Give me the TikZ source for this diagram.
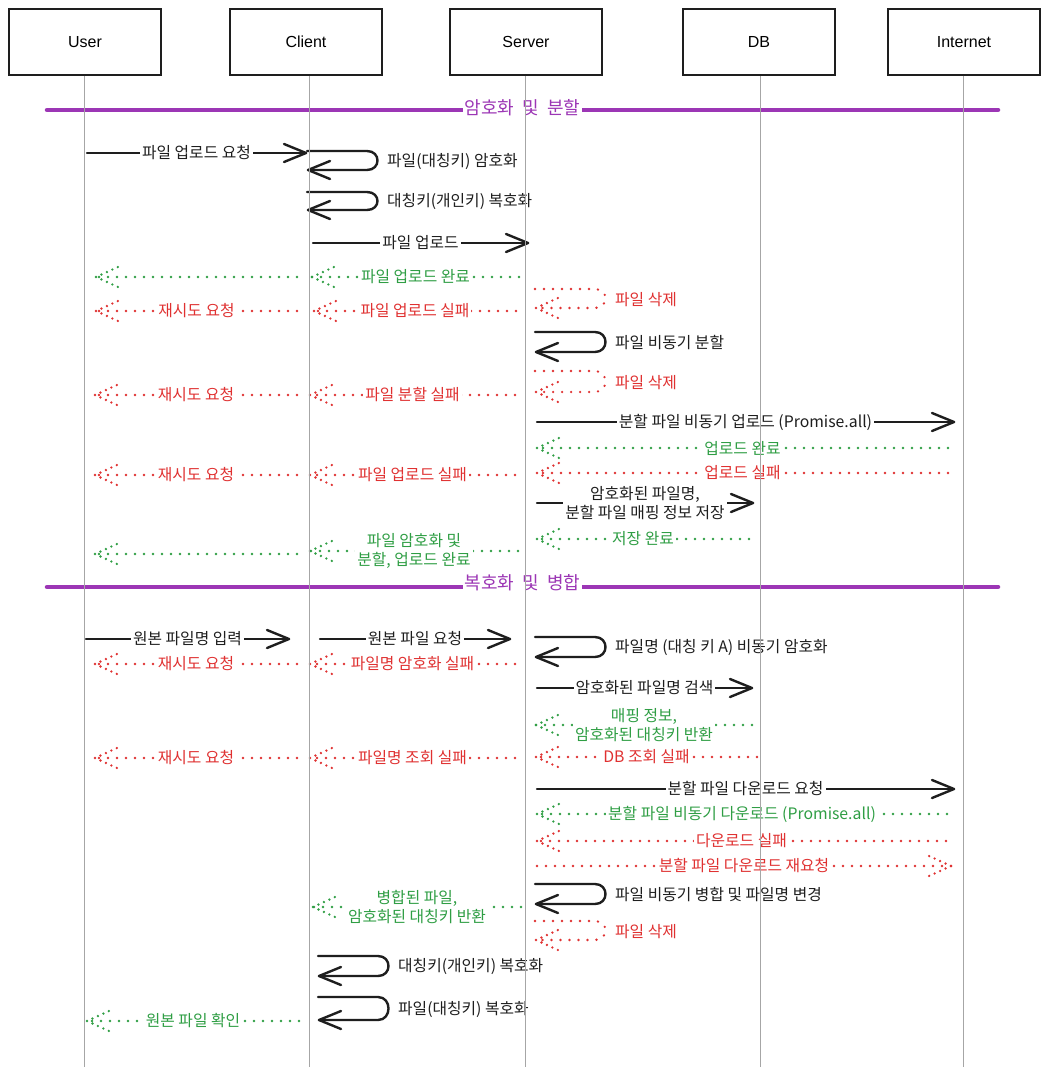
\documentclass[tikz,border=0pt]{standalone}
\usepackage{fontspec}
\setmainfont{Noto Sans CJK KR}
\newfontfamily\boxfont{Liberation Sans}
\usetikzlibrary{positioning, calc}
\definecolor{seqink}{RGB}{30, 30, 30}
\definecolor{seqgreen}{RGB}{47, 158, 68}
\definecolor{seqred}{RGB}{224, 49, 49}
\definecolor{seqpurple}{RGB}{156, 54, 181}

\tikzset{
    actor/.style={draw=seqink, line width=2pt, minimum width=152pt, minimum height=66pt,
        font=\boxfont\fontsize{16}{18}\selectfont},
    lifeline/.style={draw=black!35, line width=1pt},
    phase/.style={draw=seqpurple, line width=4.5pt, line cap=round},
    phaselbl/.style={text=seqpurple, fill=white, inner sep=1.5pt, yshift=2pt,
        font=\fontsize{18}{20}\selectfont},
    call/.style={seqink, line width=2.4pt, line cap=round, line join=round},
    reply/.style={line width=2.6pt, line cap=round, dash pattern=on 0pt off 9pt},
    lbl/.style={fill=white, inner xsep=2pt, inner ysep=1pt, align=center,
        font=\fontsize{15.8}{19}\selectfont},
    pics/barb/.style={code={\draw (0,0) -- (-22,-9) (0,0) -- (-22,9);}},
    pics/dotbarb/.style={code={\draw[dash pattern=on 0pt off 6pt] (0,0) -- (-22,-10) (0,0) -- (-22,10);}},
}

\begin{document}
\begin{tikzpicture}[x=1pt, y=-1pt]
    \useasboundingbox (0,0) rectangle (1048,1078);
    \fill[white] (0,0) rectangle (1048,1078);

    % Participants
    \node[actor] (user)   at (85,42)  {User};
    \node[actor] (client) at (306,42) {Client};
    \node[actor] (server) at (526,42) {Server};
    \node[actor] (db)     at (759,42) {DB};
    \node[actor] (inet)   at (964,42) {Internet};

    % Phase separators
    \coordinate (encA) at (47,110);
    \coordinate (encB) at (998,110);
    \draw[phase] (encA) -- node[phaselbl] (enc) {암호화\hspace{8pt}및\hspace{8pt}분할} (encB);
    \coordinate (decA) at (47,587);
    \coordinate (decB) at (998,587);
    \draw[phase] (decA) -- node[phaselbl, yshift=2pt] (dec) {복호화\hspace{8pt}및\hspace{8pt}병합} (decB);

    % Requests (solid)
    \foreach \y/\a/\b/\txt [count=\i] in {
        153/87/306/파일 업로드 요청,
        243/313/528/파일 업로드,
        422/537/954/분할 파일 비동기 업로드 (Promise.all),
        {503/537/753/암호화된 파일명,\\분할 파일 매핑 정보 저장},
        639/86/289/원본 파일명 입력,
        639/320/510/원본 파일 요청,
        688/537/752/암호화된 파일명 검색,
        789/537/954/분할 파일 다운로드 요청} {
        \coordinate (callA\i) at (\a,\y);
        \coordinate (callB\i) at (\b,\y);
        \draw[call] (callA\i) -- node[lbl] (callL\i) {\txt} (callB\i);
        \pic[call] at (callB\i) {barb};
    }

    % Replies (dotted)
    \foreach \y/\a/\b/\col/\txt [count=\i] in {
        277/519/312/seqgreen/파일 업로드 완료,
        311/297/96/seqred/재시도 요청,
        311/516/314/seqred/파일 업로드 실패,
        395/297/95/seqred/재시도 요청,
        395/515/310/seqred/파일 분할 실패,
        448/948/537/seqgreen/업로드 완료,
        473/948/537/seqred/업로드 실패,
        475/297/95/seqred/재시도 요청,
        475/515/310/seqred/파일 업로드 실패,
        539/749/537/seqgreen/저장 완료,
        {551/518/310/seqgreen/파일 암호화 및\\분할, 업로드 완료},
        664/297/95/seqred/재시도 요청,
        664/515/310/seqred/파일명 암호화 실패,
        {725/752/536/seqgreen/매핑 정보,\\암호화된 대칭키 반환},
        757/757/536/seqred/DB 조회 실패,
        758/297/95/seqred/재시도 요청,
        758/515/310/seqred/파일명 조회 실패,
        814/947/537/seqgreen/분할 파일 비동기 다운로드 (Promise.all),
        841/946/537/seqred/다운로드 실패,
        866/537/951/seqred/분할 파일 다운로드 재요청,
        {907/521/313/seqgreen/병합된 파일,\\암호화된 대칭키 반환},
        1021/299/87/seqgreen/원본 파일 확인} {
        \coordinate (backA\i) at (\a,\y);
        \coordinate (backB\i) at (\b,\y);
        \pgfmathsetmacro\headdir{ifthenelse(\b<\a,-1,1)}
        \draw[reply, \col] (backA\i) -- node[lbl, text=\col] (backL\i) {\txt} (backB\i);
        \pic[reply, color=\col, xscale=\headdir] at (backB\i) {dotbarb};
    }
    % forwarded replies without text
    \foreach \y/\a/\b [count=\i] in {277/297/96, 554/297/95} {
        \coordinate (echoA\i) at (\a,\y);
        \coordinate (echoB\i) at (\b,\y);
        \draw[reply, seqgreen] (echoA\i) -- (echoB\i);
        \pic[reply, color=seqgreen, xscale=-1] at (echoB\i) {dotbarb};
    }

    % Self messages
    \foreach \x/\ya/\yb/\sty/\col/\head/\txt [count=\i] in {
        307/151/170/call/seqink/barb/파일(대칭키) 암호화,
        307/192/210/call/seqink/barb/대칭키(개인키) 복호화,
        535/289/308/reply/seqred/dotbarb/파일 삭제,
        535/332/352/call/seqink/barb/파일 비동기 분할,
        535/371/392/reply/seqred/dotbarb/파일 삭제,
        535/637/657/call/seqink/barb/파일명 (대칭 키 A) 비동기 암호화,
        535/884/904/call/seqink/barb/파일 비동기 병합 및 파일명 변경,
        535/921/940/reply/seqred/dotbarb/파일 삭제,
        318/956/976/call/seqink/barb/대칭키(개인키) 복호화,
        318/997/1020/call/seqink/barb/파일(대칭키) 복호화} {
        \coordinate (selfA\i) at (\x,\ya);
        \coordinate (selfB\i) at (\x+1,\yb);
        \draw[\sty, \col] (selfA\i) -- ++(60,0) .. controls +(14,0) and +(14,0) .. ++(0,\yb-\ya) -- (selfB\i);
        \pic[\sty, color=\col, xscale=-1] at (selfB\i) {\head};
        \node[lbl, anchor=west, text=\col] (selfL\i) at (\x+78,{(\ya+\yb)/2+1}) {\txt};
    }

    % Lifelines
    \coordinate (userEnd)   at (84,1067);
    \coordinate (clientEnd) at (309,1067);
    \coordinate (serverEnd) at (525,1067);
    \coordinate (dbEnd)     at (760,1067);
    \coordinate (inetEnd)   at (963,1067);
    \foreach \p in {user, client, server, db, inet} {
        \draw[lifeline] (\p End |- \p.south) -- (\p End);
    }
\end{tikzpicture}
\end{document}
